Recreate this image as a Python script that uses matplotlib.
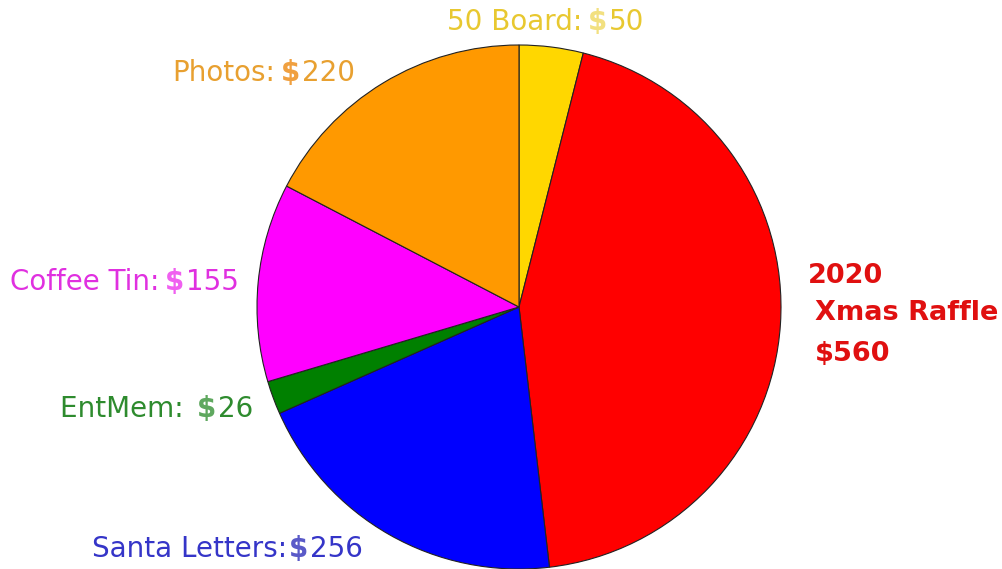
import matplotlib.pyplot as plt

# slice data, clockwise from 12 o'clock
names = ["50 Board", "2020 Xmas Raffle", "Santa Letters", "EntMem", "Coffee Tin", "Photos"]
amounts = [50, 560, 256, 26, 155, 220]
slice_colors = ["#FFD700", "#FF0000", "#0000FF", "#008000", "#FF00FF", "#FF9900"]
text_colors = ["#E8C830", "#E01010", "#3535C8", "#2E8B2E", "#E030E0", "#E8A030"]
dollar_colors = ["#F2E080", "#E01010", "#5A5AC8", "#5FA85F", "#F060F0", "#F0A040"]

W, H = 1003, 569

plt.rcParams["font.family"] = "DejaVu Sans"

fig = plt.figure(figsize=(W / 100, H / 100), dpi=100)
ax = fig.add_axes([0, 0, 1, 1])

ax.pie(amounts, colors=slice_colors, startangle=90, counterclock=False,
       center=(519, H - 307), radius=262, frame=True,
       wedgeprops=dict(edgecolor="#222222", linewidth=0.8))
ax.set_xlim(0, W)
ax.set_ylim(0, H)
ax.set_aspect("equal")
ax.axis("off")

FS = 20
# label anchor (left x, centre y in image pixels), separator, gap before value
label_pos = {
    0: (447, 22, ":", 4),
    2: (92, 549, ":", 1),
    3: (60, 409, ": ", 3),
    4: (10, 282, ":", 4),
    5: (172, 73, ":", 4),
}


def money_label(i):
    x, y, sep, gap = label_pos[i]
    t1 = ax.text(x, H - y, names[i] + sep, color=text_colors[i], fontsize=FS,
                 ha="left", va="center")
    t2 = ax.annotate("$", xy=(1, 0), xycoords=t1, xytext=(gap, 0),
                     textcoords="offset points", color=dollar_colors[i],
                     fontsize=FS, fontweight="bold", ha="left", va="bottom")
    ax.annotate(str(amounts[i]), xy=(1, 0), xycoords=t2, xytext=(1.5, 0),
                textcoords="offset points", color=text_colors[i],
                fontsize=FS, ha="left", va="bottom")


for i in label_pos:
    money_label(i)

# raffle label on the right, bold
raffle_font = dict(color=text_colors[1], fontsize=19.5, fontweight="bold",
                   ha="left", va="center")
ax.text(808, H - 276, "2020", **raffle_font)
ax.text(815, H - 313, "Xmas Raffle", **raffle_font)
ax.text(815, H - 354, "$" + str(amounts[1]), **raffle_font)

fig.savefig("out.png", dpi=100)
